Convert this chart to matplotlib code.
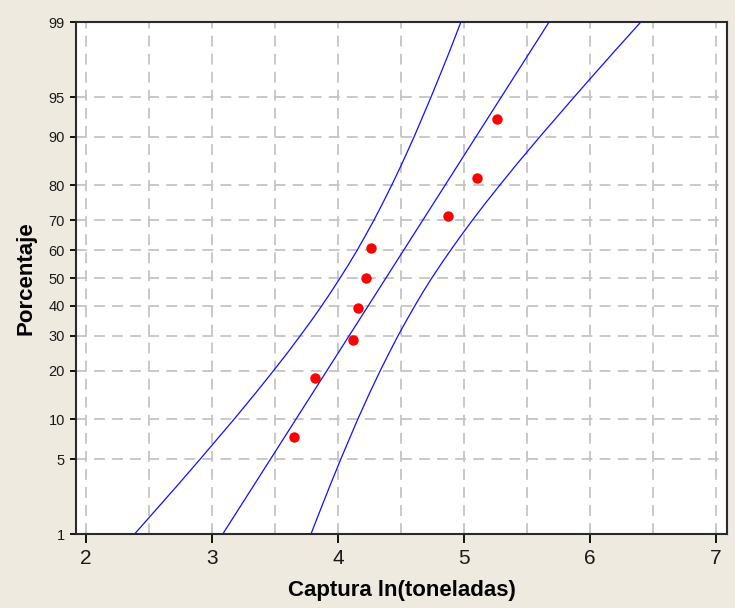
from statistics import NormalDist

import matplotlib
matplotlib.use("Agg")
import matplotlib.pyplot as plt
import numpy as np
from matplotlib.ticker import FixedLocator, NullLocator

# puntos (captura en ln, porcentaje acumulado)
captura_ln = [3.65, 3.82, 4.12, 4.16, 4.22, 4.26, 4.87, 5.10, 5.26]
porcentaje = [7.4, 18.1, 28.7, 39.4, 50.0, 60.6, 71.3, 81.9, 92.6]

# recta ajustada
ajuste_pct = [1, 99]
ajuste_x = [3.085, 5.675]

banda_pct = [1, 2, 3, 5, 10, 15, 20, 25, 30, 35, 40, 45, 50,
             55, 60, 65, 70, 75, 80, 85, 90, 95, 97, 98, 99]
banda_inf = [2.385, 2.595, 2.728, 2.906, 3.176, 3.352, 3.488, 3.602, 3.700,
             3.789, 3.870, 3.945, 4.016, 4.085, 4.152, 4.217, 4.284, 4.352,
             4.425, 4.506, 4.603, 4.738, 4.822, 4.883, 4.975]
banda_sup = [3.785, 3.878, 3.938, 4.022, 4.157, 4.254, 4.335, 4.408, 4.476,
             4.543, 4.609, 4.675, 4.744, 4.817, 4.894, 4.976, 5.066, 5.166,
             5.282, 5.420, 5.600, 5.874, 6.055, 6.189, 6.403]

y_ticks = [1, 5, 10, 20, 30, 40, 50, 60, 70, 80, 90, 95, 99]
x_ticks = [2, 3, 4, 5, 6, 7]

nd = NormalDist()


def forward(p):
    p = np.clip(np.asarray(p, dtype=float), 1e-6, 100 - 1e-6)
    return np.vectorize(lambda v: nd.inv_cdf(v / 100.0), otypes=[float])(p)


def inverse(z):
    z = np.asarray(z, dtype=float)
    return np.vectorize(lambda v: nd.cdf(v) * 100.0, otypes=[float])(z)


fig = plt.figure(figsize=(7.35, 6.08), dpi=100, facecolor="#EEEAE0")
ax = fig.add_axes([0.1034, 0.1217, 0.8857, 0.8421])
ax.set_facecolor("white")

ax.set_yscale("function", functions=(forward, inverse))
ax.set_xlim(1.92, 7.087)
ax.set_ylim(1, 99)

blue = "#1010FF"
ax.plot(ajuste_x, ajuste_pct, color=blue, lw=0.9, zorder=3)
ax.plot(banda_inf, banda_pct, color=blue, lw=0.9, zorder=3)
ax.plot(banda_sup, banda_pct, color=blue, lw=0.9, zorder=3)
ax.plot(captura_ln, porcentaje, "o", color="#FF0000", markersize=7.5,
        markeredgewidth=0, zorder=4)

ax.yaxis.set_major_locator(FixedLocator(y_ticks))
ax.yaxis.set_minor_locator(NullLocator())
ax.set_yticklabels([str(t) for t in y_ticks])
ax.xaxis.set_major_locator(FixedLocator(x_ticks))
ax.xaxis.set_minor_locator(FixedLocator(np.arange(2.5, 7.0, 1.0)))

grid_style = dict(color="#C4C4C4", linestyle=(0, (6, 4)), linewidth=1.3)
ax.grid(True, which="major", **grid_style)
ax.grid(True, which="minor", axis="x", **grid_style)
ax.set_axisbelow(True)

ax.tick_params(axis="x", which="major", length=6.5, width=1.3, pad=4,
               labelsize=15, labelcolor="#1A1A1A")
ax.tick_params(axis="x", which="minor", length=0)
ax.tick_params(axis="y", length=4, width=1.3, pad=4,
               labelsize=10.5, labelcolor="#1A1A1A")
for lbl in ax.get_xticklabels() + ax.get_yticklabels():
    lbl.set_family("Liberation Sans")

for side in ["left", "bottom", "top", "right"]:
    ax.spines[side].set_color("#2A2A2A")
    ax.spines[side].set_linewidth(1.5)

ax.set_xlabel("Captura ln(toneladas)", fontsize=16, fontweight="bold",
              family="Liberation Sans", labelpad=9)
ax.set_ylabel("Porcentaje", fontsize=16, fontweight="bold",
              family="Liberation Sans", labelpad=9)

fig.savefig("out.png", dpi=100, facecolor=fig.get_facecolor())
